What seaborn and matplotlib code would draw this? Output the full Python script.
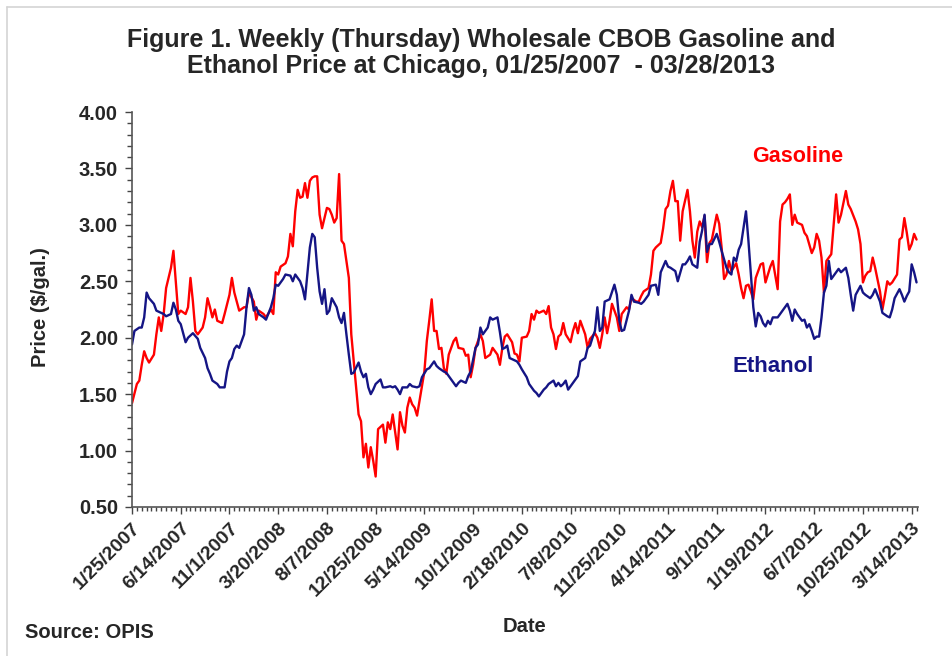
import pandas as pd
import seaborn as sns
import matplotlib.pyplot as plt
import matplotlib.dates as mdates
from matplotlib.ticker import MultipleLocator, FixedLocator
from matplotlib.lines import Line2D

# weekly (Thursday) prices, week 0 = 1/25/2007
start = pd.Timestamp('2007-01-25')

gasoline = [
    (0, 1.42), (2, 1.59), (3, 1.62), (4, 1.76), (5, 1.88), (6, 1.82), (7, 1.78), (9, 1.85),
    (10, 2.03), (11, 2.18), (12, 2.06), (13, 2.21), (14, 2.44), (16, 2.62), (17, 2.77), (19, 2.21),
    (20, 2.24), (22, 2.21), (23, 2.27), (24, 2.53), (25, 2.32), (26, 2.06), (27, 2.03), (28, 2.06),
    (29, 2.09), (30, 2.18), (31, 2.35), (32, 2.27), (33, 2.18), (34, 2.25), (35, 2.15), (37, 2.13),
    (38, 2.21), (40, 2.38), (41, 2.53), (42, 2.40), (43, 2.32), (44, 2.24), (46, 2.27), (47, 2.27),
    (48, 2.40), (50, 2.32), (51, 2.16), (52, 2.24), (54, 2.21), (55, 2.18), (57, 2.25), (58, 2.21),
    (59, 2.58), (60, 2.56), (61, 2.63), (63, 2.66), (64, 2.72), (65, 2.92), (66, 2.81), (67, 3.12),
    (68, 3.31), (69, 3.24), (70, 3.25), (71, 3.37), (72, 3.24), (73, 3.39), (74, 3.42), (75, 3.43),
    (76, 3.43), (77, 3.09), (78, 2.97), (80, 3.15), (81, 3.14), (82, 3.09), (83, 3.02), (84, 3.06),
    (85, 3.45), (86, 2.86), (87, 2.83), (89, 2.53), (90, 2.03), (92, 1.56), (93, 1.32), (94, 1.26),
    (95, 0.94), (96, 1.06), (97, 0.85), (98, 1.03), (99, 0.91), (100, 0.77), (101, 1.19), (103, 1.23),
    (104, 1.07), (105, 1.25), (106, 1.19), (107, 1.32), (109, 1.01), (110, 1.34), (111, 1.22), (112, 1.16),
    (113, 1.38), (114, 1.47), (115, 1.41), (116, 1.38), (117, 1.31), (118, 1.44), (120, 1.70), (121, 1.97),
    (122, 2.15), (123, 2.34), (124, 2.06), (125, 2.06), (126, 1.90), (127, 1.91), (128, 1.73), (129, 1.68),
    (130, 1.85), (132, 1.97), (133, 2.00), (134, 1.91), (136, 1.90), (137, 1.84), (138, 1.85), (139, 1.65),
    (140, 1.76), (141, 1.91), (143, 2.03), (144, 1.97), (145, 1.82), (147, 1.85), (148, 1.91), (150, 1.85),
    (151, 1.76), (152, 1.91), (153, 2.01), (154, 2.03), (156, 1.96), (157, 1.86), (158, 1.85), (159, 1.79),
    (160, 2.00), (162, 2.01), (163, 2.06), (164, 2.21), (165, 2.16), (166, 2.24), (167, 2.22), (169, 2.24),
    (170, 2.21), (171, 2.28), (172, 2.09), (173, 2.03), (174, 1.90), (175, 2.01), (176, 2.03), (177, 2.13),
    (178, 2.03), (180, 1.96), (181, 2.06), (182, 2.13), (183, 2.04), (184, 2.15), (186, 2.03), (187, 1.91),
    (188, 1.99), (190, 2.04), (191, 2.00), (192, 1.91), (193, 2.03), (194, 2.18), (195, 2.04), (196, 2.15),
    (197, 2.30), (199, 2.18), (200, 2.06), (201, 2.21), (203, 2.27), (204, 2.25), (205, 2.35), (207, 2.32),
    (208, 2.32), (209, 2.37), (210, 2.41), (212, 2.44), (213, 2.56), (214, 2.77), (215, 2.80), (217, 2.84),
    (218, 2.97), (219, 3.14), (220, 3.17), (221, 3.30), (222, 3.39), (223, 3.21), (224, 3.21), (225, 2.86),
    (226, 3.12), (228, 3.31), (229, 3.12), (230, 2.86), (231, 2.71), (232, 2.94), (233, 3.03), (234, 2.98),
    (235, 3.08), (236, 2.67), (237, 2.84), (238, 2.87), (240, 3.09), (241, 3.01), (242, 2.80), (243, 2.52),
    (244, 2.56), (245, 2.68), (246, 2.59), (248, 2.66), (249, 2.56), (250, 2.44), (251, 2.35), (252, 2.46),
    (253, 2.47), (254, 2.41), (255, 2.34), (256, 2.53), (258, 2.65), (259, 2.66), (260, 2.49), (261, 2.56),
    (262, 2.63), (263, 2.68), (265, 2.43), (266, 3.03), (267, 3.18), (268, 3.20), (269, 3.23), (270, 3.27),
    (271, 3.00), (272, 3.09), (273, 3.02), (275, 3.00), (276, 2.93), (277, 2.90), (279, 2.75), (280, 2.80),
    (281, 2.92), (282, 2.86), (283, 2.71), (284, 2.40), (285, 2.68), (286, 2.71), (287, 2.74), (289, 3.27),
    (290, 3.02), (291, 3.09), (293, 3.30), (294, 3.18), (295, 3.14), (297, 3.03), (298, 2.96), (299, 2.83),
    (300, 2.49), (301, 2.55), (302, 2.58), (303, 2.59), (304, 2.71), (305, 2.62), (307, 2.41), (308, 2.25),
    (309, 2.37), (310, 2.50), (311, 2.47), (312, 2.49), (314, 2.56), (315, 2.87), (316, 2.89), (317, 3.06),
    (318, 2.93), (319, 2.78), (320, 2.83), (321, 2.92), (322, 2.87),
]

ethanol = [
    (0, 1.94), (1, 2.06), (3, 2.09), (4, 2.09), (5, 2.18), (6, 2.40), (7, 2.35), (9, 2.30),
    (10, 2.24), (12, 2.22), (13, 2.21), (14, 2.19), (16, 2.21), (17, 2.31), (18, 2.25), (19, 2.15),
    (20, 2.12), (22, 1.96), (23, 2.00), (25, 2.04), (27, 1.99), (28, 1.91), (30, 1.82), (31, 1.73),
    (32, 1.68), (33, 1.62), (35, 1.59), (36, 1.56), (38, 1.56), (39, 1.70), (40, 1.79), (41, 1.82),
    (42, 1.90), (43, 1.93), (44, 1.91), (46, 2.03), (47, 2.27), (48, 2.44), (49, 2.38), (50, 2.24),
    (51, 2.27), (52, 2.21), (54, 2.18), (55, 2.16), (57, 2.27), (58, 2.35), (59, 2.47), (60, 2.46),
    (62, 2.52), (63, 2.56), (65, 2.55), (66, 2.50), (67, 2.56), (69, 2.50), (70, 2.44), (71, 2.34),
    (73, 2.80), (74, 2.92), (75, 2.89), (76, 2.62), (77, 2.41), (78, 2.30), (79, 2.43), (80, 2.21),
    (81, 2.24), (82, 2.35), (84, 2.27), (85, 2.18), (86, 2.13), (87, 2.22), (88, 2.03), (89, 1.85),
    (90, 1.68), (91, 1.69), (93, 1.78), (94, 1.70), (95, 1.65), (96, 1.68), (97, 1.56), (98, 1.50),
    (99, 1.54), (100, 1.59), (102, 1.63), (103, 1.56), (104, 1.56), (106, 1.57), (107, 1.56), (108, 1.57),
    (109, 1.54), (110, 1.50), (111, 1.56), (113, 1.56), (114, 1.59), (115, 1.57), (117, 1.56), (118, 1.57),
    (119, 1.65), (121, 1.72), (122, 1.73), (124, 1.79), (125, 1.75), (126, 1.73), (128, 1.70), (129, 1.69),
    (130, 1.66), (131, 1.63), (133, 1.57), (134, 1.60), (135, 1.62), (137, 1.60), (138, 1.66), (139, 1.70),
    (141, 1.91), (142, 1.94), (143, 2.09), (144, 2.03), (146, 2.09), (147, 2.18), (148, 2.16), (150, 2.18),
    (151, 2.05), (152, 1.90), (153, 1.91), (154, 1.93), (155, 1.82), (156, 1.81), (158, 1.79), (159, 1.76),
    (160, 1.72), (162, 1.65), (163, 1.59), (165, 1.53), (166, 1.51), (167, 1.48), (169, 1.54), (170, 1.56),
    (171, 1.59), (173, 1.62), (174, 1.57), (175, 1.60), (176, 1.57), (177, 1.59), (178, 1.62), (179, 1.54),
    (181, 1.60), (182, 1.63), (183, 1.66), (184, 1.79), (186, 1.82), (187, 1.91), (188, 1.93), (189, 2.00),
    (190, 2.06), (191, 2.27), (192, 2.06), (193, 2.09), (194, 2.32), (196, 2.34), (198, 2.47), (199, 2.38),
    (200, 2.15), (201, 2.06), (202, 2.07), (204, 2.24), (205, 2.38), (206, 2.32), (208, 2.31), (209, 2.30),
    (210, 2.32), (212, 2.38), (213, 2.46), (215, 2.47), (216, 2.38), (217, 2.58), (219, 2.68), (220, 2.63),
    (221, 2.62), (223, 2.59), (224, 2.50), (226, 2.65), (227, 2.65), (228, 2.68), (229, 2.72), (230, 2.65),
    (232, 2.62), (233, 2.85), (234, 2.95), (235, 3.09), (236, 2.76), (237, 2.83), (238, 2.83), (240, 2.92),
    (241, 2.85), (242, 2.77), (244, 2.62), (245, 2.58), (246, 2.56), (247, 2.71), (248, 2.68), (249, 2.78),
    (250, 2.83), (252, 3.12), (253, 2.86), (254, 2.56), (255, 2.27), (256, 2.10), (257, 2.22), (258, 2.19),
    (259, 2.13), (260, 2.10), (261, 2.15), (262, 2.12), (263, 2.18), (265, 2.18), (266, 2.21), (267, 2.24),
    (269, 2.30), (270, 2.24), (271, 2.15), (272, 2.25), (273, 2.21), (275, 2.15), (276, 2.16), (277, 2.09),
    (278, 2.12), (279, 2.06), (280, 1.99), (281, 2.01), (282, 2.01), (283, 2.18), (284, 2.40), (285, 2.46),
    (286, 2.68), (287, 2.52), (289, 2.58), (290, 2.61), (291, 2.58), (293, 2.62), (294, 2.53), (295, 2.38),
    (296, 2.24), (297, 2.38), (299, 2.46), (300, 2.40), (301, 2.38), (303, 2.35), (304, 2.38), (305, 2.43),
    (307, 2.32), (308, 2.22), (310, 2.19), (311, 2.18), (312, 2.25), (313, 2.35), (315, 2.43), (316, 2.38),
    (317, 2.32), (318, 2.37), (319, 2.41), (320, 2.65), (321, 2.58), (322, 2.49),
]

tick_labels = ['1/25/2007', '6/14/2007', '11/1/2007', '3/20/2008', '8/7/2008', '12/25/2008',
               '5/14/2009', '10/1/2009', '2/18/2010', '7/8/2010', '11/25/2010', '4/14/2011',
               '9/1/2011', '1/19/2012', '6/7/2012', '10/25/2012', '3/14/2013']

rows = []
for name, series in [('Gasoline', gasoline), ('Ethanol', ethanol)]:
    for wk, price in series:
        rows.append({'series': name, 'date': start + pd.Timedelta(weeks=wk), 'price': price})
df = pd.DataFrame(rows)

sns.set_style('white')
plt.rcParams['font.family'] = ['Liberation Sans', 'DejaVu Sans']
plt.rcParams['font.weight'] = 'bold'

RED = '#ff0000'
NAVY = '#151585'

fig = plt.figure(figsize=(9.52, 6.56), dpi=100)
ax = fig.add_axes([132 / 952, 1 - 507 / 656, (918 - 132) / 952, (507 - 112) / 656])

sns.lineplot(data=df, x='date', y='price', hue='series', palette={'Gasoline': RED, 'Ethanol': NAVY},
             estimator=None, linewidth=1.7, legend=False, ax=ax)

ax.set_ylim(0.5, 4.0)
ax.yaxis.set_major_locator(MultipleLocator(0.5))
ax.yaxis.set_minor_locator(MultipleLocator(0.1))
ax.set_yticklabels([f'{v:.2f}' for v in ax.get_yticks()])

x0 = mdates.date2num(start)
ax.set_xlim(x0, x0 + 7 * 322.6)
major = [x0 + 7 * 20 * i for i in range(len(tick_labels))]
ax.xaxis.set_major_locator(FixedLocator(major))
ax.xaxis.set_minor_locator(FixedLocator([x0 + 14 * i for i in range(162)]))
ax.set_xticklabels(tick_labels, rotation=45, ha='right', rotation_mode='anchor')

ax.tick_params(axis='y', which='major', direction='out', length=5, width=1, color='#444444',
               labelsize=14.5, pad=5, left=True)
ax.tick_params(axis='y', which='minor', direction='out', length=3.5, width=1, color='#444444', left=True)
ax.tick_params(axis='x', which='major', direction='out', length=5, width=1, color='#444444',
               labelsize=14, pad=4, bottom=True)
ax.tick_params(axis='x', which='minor', direction='out', length=3, width=1, color='#444444', bottom=True)
for lab in ax.get_xticklabels() + ax.get_yticklabels():
    lab.set_fontweight('bold')

for side in ['top', 'right']:
    ax.spines[side].set_visible(False)
for side in ['left', 'bottom']:
    ax.spines[side].set_color('#555555')
    ax.spines[side].set_linewidth(1.2)
ax.set_xlabel('')
ax.set_ylabel('')

fig.text(0.505, 1 - 28 / 656,
         'Figure 1. Weekly (Thursday) Wholesale CBOB Gasoline and\n'
         'Ethanol Price at Chicago, 01/25/2007  - 03/28/2013',
         ha='center', va='top', fontsize=18, fontweight='bold', linespacing=1.13)
fig.text(40 / 952, 1 - 307 / 656, 'Price ($/gal.)', rotation=90, ha='center', va='center',
         fontsize=14.5, fontweight='bold')
fig.text(525 / 952, 1 - 627 / 656, 'Date', ha='center', va='center', fontsize=14.5, fontweight='bold')
fig.text(25 / 952, 1 - 632 / 656, 'Source: OPIS', ha='left', va='center', fontsize=14.5, fontweight='bold')
fig.text(798 / 952, 1 - 157 / 656, 'Gasoline', ha='center', va='center', fontsize=15.5,
         fontweight='bold', color=RED)
fig.text(773 / 952, 1 - 367 / 656, 'Ethanol', ha='center', va='center', fontsize=16,
         fontweight='bold', color=NAVY)

# light frame of the chart area
fig.add_artist(Line2D([7 / 952, 7 / 952], [0, 1 - 7 / 656], color='#d4d4d4', lw=1.2))
fig.add_artist(Line2D([7 / 952, 1], [1 - 7 / 656, 1 - 7 / 656], color='#d4d4d4', lw=1.2))

fig.savefig('out.png', dpi=100)
